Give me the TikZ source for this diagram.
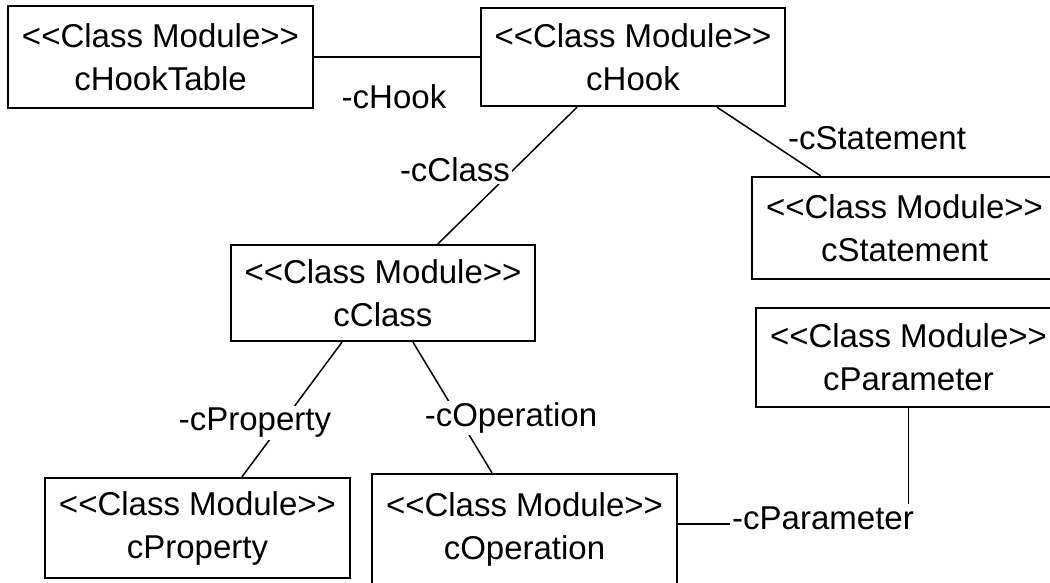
\documentclass[tikz,border=0pt]{standalone}
\usepackage{fontspec}
\setmainfont{Liberation Sans}[Ligatures=TeXOff]
\begin{document}
\begin{tikzpicture}[x=1pt,y=-1pt,
  module/.style={draw, line width=2.4pt, align=center, inner sep=0pt,
    font=\fontsize{33}{43}\selectfont},
  role/.style={font=\fontsize{33}{40}\selectfont, inner sep=2pt},
  assoc/.style={line width=1.5pt}]
\useasboundingbox (0,0) rectangle (1050,583);
\clip (0,0) rectangle (1050,583);

% class modules
\node[module, minimum width=305pt, minimum height=102pt] (hooktable) at (160.5,57) {<<Class Module>>\\cHookTable};
\node[module, minimum width=304pt, minimum height=98pt]  (hook)      at (633,57)    {<<Class Module>>\\cHook};
\node[module, minimum width=305pt, minimum height=102pt] (statement) at (904.5,228) {<<Class Module>>\\cStatement};
\node[module, minimum width=305pt, minimum height=99pt]  (parameter) at (908.5,357.5) {<<Class Module>>\\cParameter};
\node[module, minimum width=304pt, minimum height=96pt]  (class)     at (383,293)   {<<Class Module>>\\cClass};
\node[module, minimum width=305pt, minimum height=100pt] (property)  at (197.5,528) {<<Class Module>>\\cProperty};
\node[module, minimum width=305pt, minimum height=110pt] (operation) at (524.5,529) {<<Class Module>>\\cOperation};

% associations
\draw[assoc] (hooktable.east) -- (hooktable.east -| hook.west);
\draw[assoc] ([xshift=-56pt]hook.south) -- ([xshift=55pt]class.north);
\draw[assoc] ([xshift=84pt]hook.south) -- ([xshift=-84pt]statement.north);
\draw[assoc] ([xshift=-41pt]class.south) -- ([xshift=44.5pt]property.north);
\draw[assoc] ([xshift=30pt]class.south) -- ([xshift=-32.5pt]operation.north);
\coordinate (pcorner) at (908.5,524);
\draw[assoc] (operation.east |- pcorner) -| (parameter.south);

% role names
\node[role] (lhook) at (394,97) {-cHook};
\node[role, fill=white] (lclass) at (455,170) {-cClass};
\node[role] (lstatement) at (877,138) {-cStatement};
\node[role, fill=white] (lproperty) at (255,423) {-cProperty};
\node[role, fill=white] (loperation) at (511,418) {-cOperation};
\node[role, fill=white] (lparameter) at (823,518) {-cParameter};
\end{tikzpicture}
\end{document}
